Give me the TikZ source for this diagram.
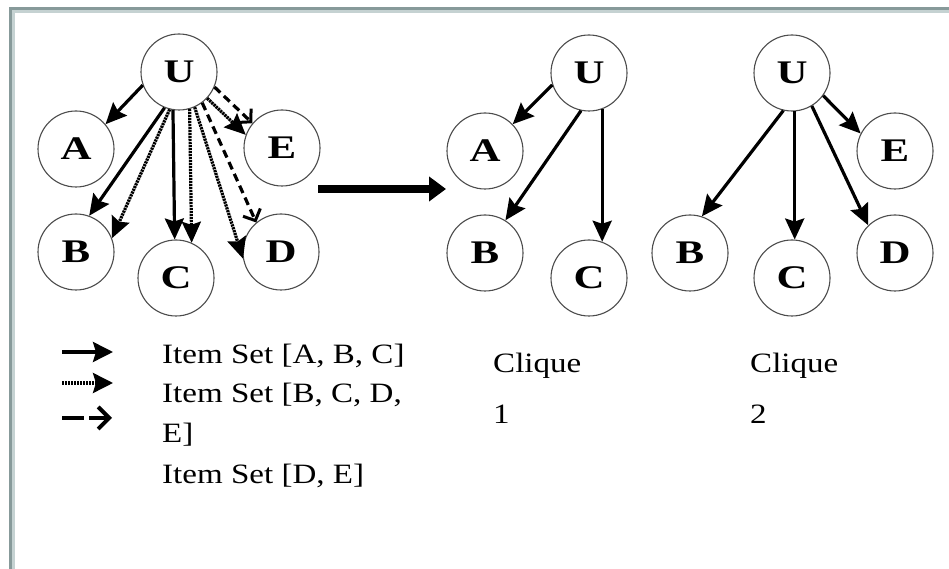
\documentclass[tikz,border=0pt]{standalone}
\usepackage{fontspec}
\setmainfont{Liberation Serif}
\usetikzlibrary{arrows.meta}

\definecolor{framedark}{HTML}{879A9A}
\definecolor{framelight}{HTML}{C5D2D2}

% letters in the vertices are set a bit wider than the font
\newcommand{\wide}[1]{\scalebox{1.3}[1]{#1}}

\begin{document}
\begin{tikzpicture}[
    x=1pt, y=1pt,
    vtx/.style={circle, draw=black!70, line width=1.1pt, minimum size=76pt,
                inner sep=0pt, font=\fontsize{33}{33}\selectfont\bfseries},
    setabc/.style={-{Stealth[length=21pt, width=19pt, inset=3pt]}, line width=3.2pt},
    setbcde/.style={setabc, dash pattern=on 2.2pt off 0.8pt},
    setde/.style={-{Straight Barb[length=9pt, width=19pt, line width=3pt]},
                  line width=3.2pt, dash pattern=on 8pt off 5pt},
    txt/.style={font=\fontsize{28}{40}\selectfont, xscale=1.18, inner sep=0pt},
]
    \useasboundingbox (0,0) rectangle (949,569);

    % Frame
    \draw[framedark, line width=3pt] (10.5,0) -- (10.5,560.5) -- (949,560.5);
    \draw[framelight, line width=3pt] (13.5,0) -- (13.5,557.5) -- (949,557.5);

    % All item sets on one graph
    \node[vtx] (u)  at (179,497) {\wide{U}};
    \node[vtx] (a)  at (76,420)  {\wide{A}};
    \node[vtx] (e)  at (282,421) {\wide{E}};
    \node[vtx] (b)  at (76,317)  {\wide{B}};
    \node[vtx] (c)  at (176,291) {\wide{C}};
    \node[vtx] (d)  at (281,317) {\wide{D}};

    \draw[setabc]  (u.200) -- (a.40);
    \draw[setabc]  (u.248) -- (b.70);
    \draw[setbcde] (u.256) -- (b.21);
    \draw[setabc]  (u.261) -- (c.92);
    \draw[setbcde] (u.286) -- (c.66);
    \draw[setbcde] (u.294) -- (d.190);
    \draw[setde]   (u.307) -- (d.130);
    \draw[setbcde] (u.317) -- (e.160);
    \draw[setde]   (u.337) -- (e.140);

    % Split into cliques
    \coordinate (split0) at (318,380);
    \coordinate (split1) at (446,380);
    \draw[-{Triangle[length=17pt, width=24pt]}, line width=8pt] (split0) -- (split1);

    % Clique 1
    \node[vtx] (u1) at (589,496) {\wide{U}};
    \node[vtx] (a1) at (485,418) {\wide{A}};
    \node[vtx] (b1) at (485,316) {\wide{B}};
    \node[vtx] (c1) at (589,291) {\wide{C}};

    \draw[setabc] (u1.198) -- (a1.44);
    \draw[setabc] (u1.258) -- (b1.58);
    \draw[setabc] (u1.290) -- (c1.70);

    % Clique 2
    \node[vtx] (u2) at (792,496) {\wide{U}};
    \node[vtx] (b2) at (690,316) {\wide{B}};
    \node[vtx] (c2) at (792,291) {\wide{C}};
    \node[vtx] (e2) at (895,418) {\wide{E}};
    \node[vtx] (d2) at (895,316) {\wide{D}};

    \draw[setabc]  (u2.257) -- (b2.72);
    \draw[setbcde] (u2.274) -- (c2.86);
    \draw[setabc]  (u2.301) -- (d2.134);
    \draw[setabc]  (u2.324) -- (e2.153);

    % Legend
    \coordinate (key1) at (62,217);
    \coordinate (key2) at (62,186);
    \coordinate (key3) at (62,151);
    \draw[setabc, -{Stealth[length=20pt, width=20pt, inset=3pt]}] (key1) -- ++(51,0);
    \draw[setbcde, -{Stealth[length=20pt, width=20pt, inset=3pt]}] (key2) -- ++(51,0);
    \draw[line width=4.5pt, dash pattern=on 22pt off 5pt,
          -{Straight Barb[length=11pt, width=22pt, line width=4pt]}]
        (key3) -- ++(50,0);

    \node[txt, anchor=base west] (set1)  at (162,205) {Item Set [A, B, C]};
    \node[txt, anchor=base west] (set2)  at (162,166) {Item Set [B, C, D,};
    \node[txt, anchor=base west] (set2b) at (162,126) {E]};
    \node[txt, anchor=base west] (set3)  at (162,85)  {Item Set [D, E]};

    \node[txt, anchor=base west] (clq1) at (493,196) {Clique};
    \node[txt, anchor=base west] (num1) at (493,145) {1};
    \node[txt, anchor=base west] (clq2) at (750,196) {Clique};
    \node[txt, anchor=base west] (num2) at (750,145) {2};

\end{tikzpicture}
\end{document}
